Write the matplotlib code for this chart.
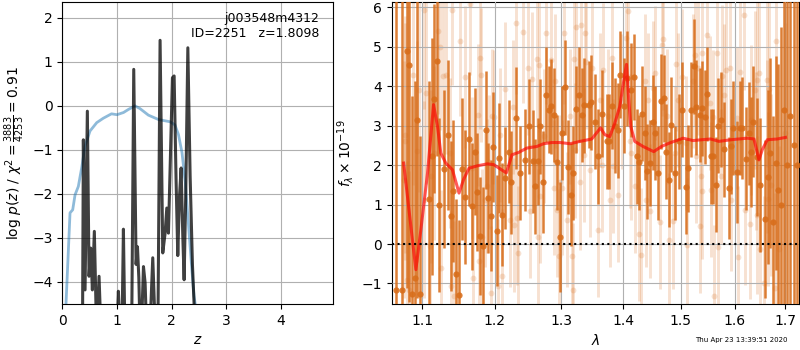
import matplotlib
matplotlib.use('Agg')
import matplotlib.pyplot as plt
from matplotlib.ticker import FixedLocator, NullLocator, FixedFormatter

# ---------------- left panel: redshift PDF ----------------
pz_z = [0.00, 0.30, 0.37, 0.385, 0.416, 0.458, 0.489, 0.52, 0.55, 0.586, 0.617, 0.64,
        0.672, 0.703, 1.002, 1.026, 1.05, 1.093, 1.118, 1.143, 1.27, 1.307, 1.35,
        1.375, 1.40, 1.42, 1.45, 1.485, 1.515, 1.54, 1.606, 1.655, 1.698, 1.75,
        1.789, 1.838, 1.881, 1.912, 1.942, 1.972, 2.015, 2.046, 2.082, 2.113, 2.143,
        2.174, 2.205, 2.229, 2.26, 2.297, 2.339, 2.381, 2.418, 2.45, 5.0]
pz_logp = [-5.0, -5.0, -5.0, -0.77, -4.18, -0.12, -3.87, -3.23, -4.18, -2.85, -4.6, -5.0,
           -3.87, -5.0, -5.0, -4.21, -5.0, -5.0, -2.80, -5.0, -5.0, 0.83, -3.6,
           -3.2, -3.9, -5.0, -5.0, -3.65, -4.02, -5.0, -5.0, -3.45, -5.0, -5.0,
           1.49, -3.34, -2.89, -2.32, -2.89, -1.45, 0.64, 0.68, -1.7, -3.4, -2.09,
           -1.41, -2.97, -3.95, -1.9, 1.32, -1.6, -3.6, -4.7, -5.0, -5.0]

chi_z = [0.05, 0.068, 0.141, 0.19, 0.233, 0.293, 0.355, 0.416, 0.507, 0.63, 0.75,
         0.90, 1.0, 1.12, 1.21, 1.33, 1.42, 1.575, 1.76, 1.97, 2.06, 2.125, 2.19,
         2.25, 2.31, 2.37, 2.41, 2.43, 2.45]
chi_v = [-5.0, -4.48, -2.43, -2.36, -2.02, -1.83, -1.40, -0.91, -0.57, -0.38, -0.28,
         -0.18, -0.20, -0.15, -0.08, 0.0, -0.06, -0.21, -0.31, -0.36, -0.43, -0.65, -1.06,
         -1.74, -2.72, -3.71, -4.32, -4.48, -5.0]

# ---------------- right panel: spectrum ----------------
dark_wave = [1.0659, 1.0732, 1.0797, 1.0830, 1.0869, 1.0900, 1.0935, 1.0974, 1.1084, 1.1124,
             1.1159, 1.1191, 1.1227, 1.1290, 1.1344, 1.1384, 1.1416, 1.1462, 1.1490, 1.1535,
             1.1583, 1.1636, 1.1678, 1.1716, 1.1754, 1.1793, 1.1839, 1.1876, 1.1910, 1.1943,
             1.1978, 1.2034, 1.2066, 1.2106, 1.2155, 1.2203, 1.2239, 1.2316, 1.2365, 1.2450,
             1.2499, 1.2563, 1.2599, 1.2639, 1.2672, 1.2714, 1.2760, 1.2802, 1.2840, 1.2889,
             1.2930, 1.2982, 1.3015, 1.3060, 1.3096, 1.3148, 1.3185, 1.3234, 1.3270, 1.3322,
             1.3357, 1.3430, 1.3473, 1.3527, 1.3587, 1.3648, 1.3723, 1.3767, 1.3817, 1.3864,
             1.3905, 1.3943, 1.4005, 1.4063, 1.4122, 1.4178, 1.4224, 1.4271, 1.4318, 1.4367,
             1.4408, 1.4453, 1.4512, 1.4550, 1.4592, 1.4652, 1.4692, 1.4732, 1.4785, 1.4833,
             1.4899, 1.4959, 1.5030, 1.5089, 1.5126, 1.5180, 1.5235, 1.5284, 1.5344, 1.5394,
             1.5440, 1.5483, 1.5548, 1.5592, 1.5641, 1.5682, 1.5735, 1.5796, 1.5894, 1.5928,
             1.5976, 1.6053, 1.6105, 1.6150, 1.6214, 1.6276, 1.6324, 1.6363, 1.6432, 1.6491,
             1.6587, 1.6651, 1.6700, 1.6760, 1.6814, 1.6861, 1.6921, 1.6976, 1.7043, 1.7098,
             1.7176, 1.7238]
dark_flux = [-1.16, -1.17, 4.89, 4.54, -1.26, -0.86, 3.14, -1.26, 1.14, 2.22,
             3.68, 4.63, 0.99, 1.90, 2.77, 0.72, 1.34, -0.75, -1.30, 1.90,
             1.20, 2.66, 0.95, 2.34, 1.32, 0.20, -0.06, 2.89, 1.17, 0.72,
             2.46, 0.34, 2.18, 0.74, 1.67, 2.34, 1.56, 3.19, 1.80, 2.13,
             2.98, 2.09, 1.46, 2.09, 2.98, 1.57, 3.78, 3.40, 3.49, 3.27,
             2.07, 0.18, 2.81, 3.97, 1.95, 1.25, 1.80, 3.41, 3.78, 3.27,
             3.51, 3.53, 3.59, 3.10, 2.22, 3.30, 2.60, 2.60, 3.50, 3.00,
             2.88, 4.29, 3.50, 4.20, 3.90, 4.23, 2.22, 2.07, 3.30, 2.81,
             1.84, 2.05, 3.08, 2.81, 1.80, 3.61, 3.69, 2.34, 1.63, 3.02,
             1.80, 2.60, 3.40, 1.45, 1.92, 3.40, 4.50, 3.46, 3.27, 3.44,
             3.22, 3.80, 2.22, 2.22, 1.50, 3.00, 3.15, 2.40, 1.42, 2.47,
             2.94, 1.82, 2.94, 2.94, 2.16, 2.80, 2.33, 3.10, 2.20, 1.50,
             0.63, 1.70, 2.30, 0.55, 2.05, 1.37, 1.00, 3.40, 2.00, 3.25,
             2.50, 2.00]
dark_err = [8.0, 8.0, 6.0, 6.0, 5.0, 5.0, 4.5, 4.0, 3.0, 3.0,
            2.4, 2.4, 2.2, 2.0, 1.9, 1.9, 1.8, 1.9, 1.9, 1.8,
            1.7, 1.7, 1.6, 1.6, 1.5, 1.5, 1.5, 1.5, 1.4, 1.4,
            1.4, 1.4, 1.4, 1.3, 1.3, 1.3, 1.3, 1.3, 1.2, 1.3,
            1.2, 1.3, 1.2, 1.1, 1.2, 1.3, 1.2, 1.1, 1.2, 1.2,
            1.2, 1.4, 1.2, 1.2, 1.2, 1.3, 1.2, 1.1, 1.2, 1.2,
            1.2, 1.1, 1.2, 1.2, 1.2, 1.1, 1.2, 1.2, 1.1, 1.2,
            1.2, 1.1, 1.2, 1.2, 1.2, 1.1, 1.2, 1.2, 1.2, 1.2,
            1.2, 1.1, 1.2, 1.2, 1.2, 1.2, 1.1, 1.2, 1.2, 1.2,
            1.2, 1.2, 1.2, 1.2, 1.1, 1.2, 1.2, 1.2, 1.2, 1.2,
            1.2, 1.2, 1.2, 1.2, 1.2, 1.2, 1.2, 1.2, 1.3, 1.2,
            1.2, 1.3, 1.2, 1.3, 1.3, 1.3, 1.4, 1.4, 1.5, 1.7,
            2.0, 2.2, 2.4, 2.7, 2.7, 3.2, 4.5, 5.5, 8.0, 8.0,
            8.0, 8.0]

light_wave = [1.0758, 1.0775, 1.0781, 1.0801, 1.0830, 1.0882, 1.0927, 1.0953, 1.1018, 1.1026,
              1.1049, 1.1106, 1.1121, 1.1151, 1.1205, 1.1240, 1.1249, 1.1272, 1.1317, 1.1375,
              1.1384, 1.1407, 1.1429, 1.1512, 1.1577, 1.1650, 1.1684, 1.1695, 1.1763, 1.1772,
              1.1791, 1.1811, 1.1822, 1.1857, 1.1896, 1.1924, 1.1943, 1.1967, 1.1986, 1.2048,
              1.2073, 1.2106, 1.2155, 1.2218, 1.2261, 1.2287, 1.2310, 1.2325, 1.2343, 1.2414,
              1.2488, 1.2514, 1.2548, 1.2624, 1.2634, 1.2649, 1.2675, 1.2725, 1.2760, 1.2843,
              1.2878, 1.2905, 1.2930, 1.2956, 1.2982, 1.3007, 1.3038, 1.3086, 1.3139, 1.3164,
              1.3180, 1.3191, 1.3218, 1.3227, 1.3297, 1.3306, 1.3349, 1.3365, 1.3382, 1.3446,
              1.3483, 1.3575, 1.3613, 1.3640, 1.3668, 1.3751, 1.3777, 1.3805, 1.3833, 1.3905,
              1.3971, 1.4043, 1.4084, 1.4110, 1.4131, 1.4195, 1.4271, 1.4298, 1.4367, 1.4379,
              1.4425, 1.4453, 1.4512, 1.4540, 1.4627, 1.4657, 1.4687, 1.4745, 1.4792, 1.4863,
              1.4892, 1.4922, 1.4953, 1.5030, 1.5102, 1.5117, 1.5224, 1.5253, 1.5284, 1.5315,
              1.5344, 1.5363, 1.5381, 1.5394, 1.5486, 1.5536, 1.5548, 1.5598, 1.5613, 1.5673,
              1.5692, 1.5735, 1.5767, 1.5799, 1.5830, 1.5905, 1.5937, 1.6053, 1.6068, 1.6105,
              1.6183, 1.6198, 1.6291, 1.6311, 1.6397, 1.6409, 1.6429, 1.6442, 1.6476, 1.6495,
              1.6575, 1.6627, 1.6640, 1.6656, 1.6674, 1.6706, 1.6786, 1.6806, 1.6875, 1.6988]
light_flux = [1.63, 2.77, 2.60, -0.90, -1.16, 4.29, 2.35, 3.91, 5.93, 1.12,
              3.82, -0.06, 1.71, 2.30, 5.40, 5.00, -0.62, 4.26, 4.29, 2.30,
              -1.07, 5.93, -1.32, 5.13, 4.22, 6.08, 1.92, -0.86, 3.27, -0.44,
              4.71, 4.29, 0.19, 1.12, 1.46, 2.07, -1.24, 3.23, 3.22, -1.07,
              2.77, -0.82, 3.92, 0.62, 3.47, 0.49, 5.59, 0.66, -0.23, 5.37,
              4.46, 0.83, 4.18, 4.68, 0.19, 4.53, 1.21, 2.73, 5.34, 4.66,
              1.43, 4.12, 0.87, -0.31, 1.56, 1.43, 5.34, 0.62, 3.23, -0.31,
              -1.16, 4.68, 2.37, 5.49, 1.56, 5.55, 2.26, 5.34, 4.62, 1.88,
              4.46, 0.36, 3.65, 2.01, 4.40, 3.23, 1.12, 4.71, 1.97, 1.25,
              3.61, 5.22, 5.89, 2.60, 2.30, 1.46, 0.25, -0.28, 4.12, 1.12,
              3.65, 0.83, 3.95, 4.33, 0.55, 5.05, 5.19, 3.23, 0.09, 0.57,
              2.30, 4.56, 3.65, 4.24, 2.56, -0.02, 4.12, 4.79, 2.22, 4.46,
              0.46, 1.71, 1.33, 4.84, 5.30, 3.57, 1.38, 3.22, -1.31, 4.85,
              -0.08, 1.71, 4.26, 3.78, 4.40, 4.46, 1.12, 3.19, -0.33, 4.35,
              5.81, 0.87, 0.51, 3.15, 3.91, 2.35, 4.16, 0.74, 4.33, -0.13,
              -0.99, 4.16, 2.47, 1.14, 3.92, 1.50, -1.11, 5.13, -0.13, 2.81]
light_err = [3.0, 3.0, 3.0, 3.0, 3.0, 2.8, 2.8, 2.6, 2.5, 2.5,
             2.3, 2.3, 2.2, 2.2, 2.1, 2.1, 2.0, 2.0, 2.0, 1.9,
             1.9, 1.9, 1.9, 1.9, 1.8, 1.8, 1.8, 1.8, 1.8, 1.8,
             1.8, 1.7, 1.7, 1.7, 1.7, 1.7, 1.7, 1.7, 1.7, 1.7,
             1.7, 1.7, 1.7, 1.7, 1.7, 1.7, 1.8, 1.7, 1.7, 1.8,
             1.7, 1.7, 1.7, 1.7, 1.7, 1.7, 1.7, 1.7, 1.8, 1.7,
             1.7, 1.7, 1.7, 1.7, 1.7, 1.7, 1.8, 1.7, 1.7, 1.7,
             1.7, 1.7, 1.7, 1.8, 1.7, 1.8, 1.7, 1.8, 1.7, 1.7,
             1.7, 1.7, 1.7, 1.7, 1.7, 1.7, 1.7, 1.7, 1.7, 1.7,
             1.7, 1.8, 1.8, 1.7, 1.7, 1.7, 1.7, 1.7, 1.7, 1.7,
             1.7, 1.7, 1.7, 1.7, 1.7, 1.8, 1.8, 1.7, 1.7, 1.7,
             1.7, 1.7, 1.7, 1.7, 1.7, 1.7, 1.7, 1.8, 1.7, 1.7,
             1.7, 1.7, 1.7, 1.8, 1.8, 1.7, 1.7, 1.7, 1.8, 1.8,
             1.7, 1.7, 1.8, 1.8, 1.8, 1.8, 1.8, 1.8, 1.8, 1.8,
             1.9, 1.9, 1.9, 1.9, 2.0, 2.0, 2.0, 2.0, 2.0, 2.1,
             2.2, 2.2, 2.2, 2.2, 2.3, 2.3, 2.4, 2.4, 2.6, 2.8]

model_wave = [1.0758, 1.0917, 1.0983, 1.1071, 1.1151, 1.1204, 1.1249, 1.1316, 1.1407, 1.1497,
              1.1559, 1.1636, 1.1753, 1.1894, 1.1986, 1.2168, 1.2251, 1.2349, 1.2472, 1.2622,
              1.2723, 1.2850, 1.2980, 1.3136, 1.3294, 1.3481, 1.3557, 1.3623, 1.3693, 1.3775,
              1.3858, 1.3941, 1.4025, 1.4054, 1.4088, 1.4126, 1.4194, 1.4337, 1.4521, 1.4655,
              1.4802, 1.5041, 1.5222, 1.5374, 1.5546, 1.5703, 1.5923, 1.6245, 1.6376, 1.6474,
              1.6540, 1.6639, 1.6839, 1.7007]
model_flux = [2.05, -0.65, 0.36, 1.80, 3.53, 2.98, 2.30, 2.05, 1.88, 1.29,
              1.63, 1.92, 1.98, 2.03, 2.01, 1.80, 2.26, 2.32, 2.43, 2.47,
              2.54, 2.57, 2.57, 2.54, 2.60, 2.66, 2.81, 2.94, 2.77, 2.72,
              3.06, 3.48, 4.29, 4.55, 3.74, 2.98, 2.60, 2.47, 2.34, 2.47,
              2.56, 2.68, 2.62, 2.64, 2.66, 2.60, 2.64, 2.68, 2.66, 2.13,
              2.39, 2.64, 2.66, 2.70]

wave_ticks = [1.1, 1.2, 1.3, 1.4, 1.5, 1.6, 1.7]
wave_tick_labels = ['1.1', '1.2', '1.3', '1.4', '1.5', '1.6', '1.7']

orange = '#d86d1a'

fig = plt.figure(figsize=(8, 3.5), dpi=100)

# ---- left
ax1 = fig.add_axes([0.0779, 0.1314, 0.3388, 0.8629])
ax1.plot(chi_z, chi_v, color='tab:blue', alpha=0.5, lw=2)
ax1.plot(pz_z, pz_logp, color='k', alpha=0.75, lw=2.2)
ax1.set_xlim(0, 4.96)
ax1.set_ylim(-4.5, 2.36)
ax1.set_xticks([0, 1, 2, 3, 4])
ax1.set_yticks([-4, -3, -2, -1, 0, 1, 2])
ax1.grid(True)
ax1.set_xlabel('$z$')
ax1.set_ylabel(r'$\log\,p(z)$ / $\chi^2=\frac{3883}{4253}=0.91$')
ax1.text(0.948, 0.968, 'j003548m4312\nID=2251   z=1.8098', ha='right', va='top',
         transform=ax1.transAxes, fontsize=9)

# ---- right
ax2 = fig.add_axes([0.4896, 0.1314, 0.5095, 0.8629])
ax2.set_xscale('log')
ax2.errorbar(light_wave, light_flux, yerr=light_err, fmt='o', color=orange, ms=4.2,
             elinewidth=2.1, capsize=0, alpha=0.2, mew=0, zorder=2)
ax2.errorbar(dark_wave, dark_flux, yerr=dark_err, fmt='o', color=orange, ms=4.5,
             elinewidth=1.8, capsize=0, alpha=0.88, mew=0, zorder=3)
ax2.plot(model_wave, model_flux, color='red', alpha=0.65, lw=2.2, zorder=10)
ax2.axhline(0, color='k', ls=':', lw=1.5, zorder=11)
ax2.set_xlim(1.0605, 1.729)
ax2.set_ylim(-1.52, 6.13)
ax2.xaxis.set_major_locator(FixedLocator(wave_ticks))
ax2.xaxis.set_major_formatter(FixedFormatter(wave_tick_labels))
ax2.xaxis.set_minor_locator(NullLocator())
ax2.set_yticks([-1, 0, 1, 2, 3, 4, 5, 6])
ax2.grid(True, zorder=5)
ax2.set_axisbelow(False)
ax2.set_xlabel(r'$\lambda$')
ax2.set_ylabel(r'$f_\lambda \times 10^{-19}$')

fig.text(0.985, 0.029, 'Thu Apr 23 13:39:51 2020', ha='right', va='center', fontsize=5)

fig.savefig('out.png', dpi=100)
